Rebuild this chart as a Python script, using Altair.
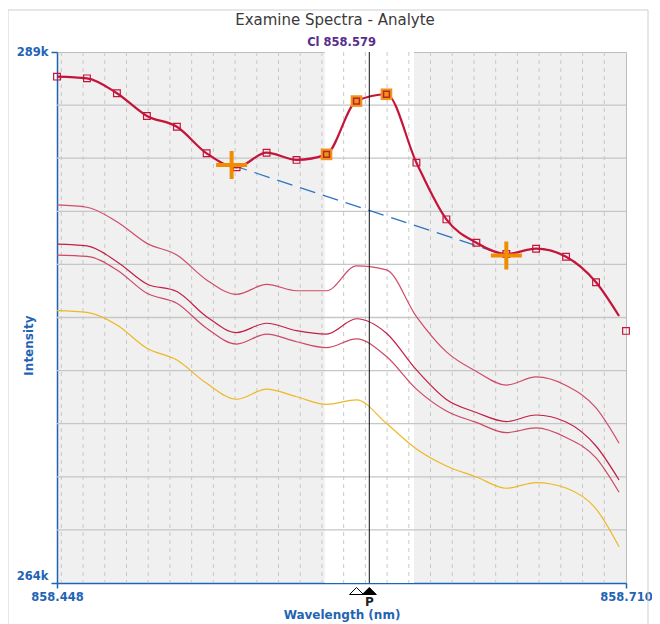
import altair as alt
import pandas as pd

# ---------------- data ----------------
wavelengths = [858.4480, 858.4618, 858.4756, 858.4894, 858.5032, 858.5169, 858.5307,
               858.5445, 858.5583, 858.5721, 858.5859, 858.5997, 858.6135, 858.6273,
               858.6411, 858.6549, 858.6686, 858.6824, 858.6962, 858.7068]
marker_wavelengths = [858.4480, 858.4618, 858.4756, 858.4894, 858.5032, 858.5169, 858.5307,
                      858.5445, 858.5583, 858.5721, 858.5859, 858.5997, 858.6135, 858.6273,
                      858.6411, 858.6549, 858.6686, 858.6824, 858.6962, 858.7100]

analyte = [287840, 287760, 287060, 285990, 285480, 284230, 283570, 284260, 283920, 284180,
           286690, 287010, 283790, 281120, 280020, 279490, 279740, 279360, 278160, 276570]
analyte_markers = [287840, 287760, 287060, 285990, 285480, 284230, 283570, 284260, 283920, 284180,
                   286690, 287010, 283790, 281120, 280020, 279490, 279740, 279360, 278160, 275870]
peak_points = [9, 10, 11]

spectrum_a = [281800, 281690, 281010, 279990, 279440, 278270, 277590, 278060, 277760, 277760,
              278930, 278740, 276540, 274880, 273960, 273320, 273700, 273300, 272240, 270580]
spectrum_b = [279950, 279870, 279130, 278080, 277720, 276540, 275790, 276230, 275880, 275720,
              276440, 275760, 274030, 272640, 272030, 271600, 271910, 271580, 270450, 268850]
spectrum_c = [279440, 279380, 278740, 277640, 277170, 275990, 275250, 275720, 275360, 275080,
              275490, 274660, 273130, 272100, 271560, 271080, 271300, 270850, 269890, 268270]
spectrum_d = [276820, 276740, 276150, 275050, 274500, 273400, 272650, 273130, 272770, 272410,
              272620, 271510, 270310, 269510, 268990, 268460, 268730, 268470, 267490, 265710]

background_wl = [858.5284, 858.6549]
background_int = [283680, 279420]

window_band = [858.5713, 858.6124]
peak_wl = 858.5918
line_wl = 858.5859

x_domain = [858.448, 858.710]
y_domain = [264000, 289000]
x_labels = [858.448, 858.710]
y_labels = [264000, 289000]
x_grid = [858.45, 858.46, 858.47, 858.48, 858.49, 858.50, 858.51, 858.52, 858.53,
          858.54, 858.55, 858.56, 858.57, 858.58, 858.59, 858.60, 858.61, 858.62,
          858.63, 858.64, 858.65, 858.66, 858.67, 858.68, 858.69, 858.70]
y_grid = [266500, 269000, 271500, 274000, 276500, 279000, 281500, 284000, 286500]

title_text = "Examine Spectra - Analyte"
subtitle_text = "Cl 858.579"

# ---------------- styling ----------------
W, H = 569, 531
BLUE = "#1F64B4"
CRIMSON = "#C4143A"
FONT = "DejaVu Sans"

xscale = alt.Scale(domain=x_domain, nice=False, zero=False)
yscale = alt.Scale(domain=y_domain, nice=False, zero=False)

xaxis = alt.Axis(values=x_labels, format=".3f", grid=False, labelColor=BLUE, labelFont=FONT,
                 labelFontSize=11.5, labelFontWeight="bold", labelPadding=3, tickSize=5,
                 tickColor=BLUE, tickWidth=1.5, domainColor=BLUE, domainWidth=1.5,
                 labelFlush=False, labelOverlap=False, title="Wavelength (nm)",
                 titleColor=BLUE, titleFont=FONT, titleFontSize=12, titleFontWeight="bold",
                 titleY=31, titleBaseline="middle")
yaxis = alt.Axis(values=y_labels, format="~s", grid=False, labelColor=BLUE, labelFont=FONT,
                 labelFontSize=11.5, labelFontWeight="bold", labelPadding=3, tickSize=6,
                 tickColor=BLUE, tickWidth=1.5, domainColor=BLUE, domainWidth=1.5,
                 labelFlush=False, labelOverlap=False,
                 labelOffset={"condition": {"test": "datum.value < 270000", "value": -7}, "value": 0},
                 title="Intensity", titleColor=BLUE, titleFont=FONT, titleFontSize=12,
                 titleFontWeight="bold", titleX=-29, titleY=293, titleBaseline="middle")


def X(field):
    return alt.X(field, type="quantitative", scale=xscale, axis=xaxis)


def Y(field):
    return alt.Y(field, type="quantitative", scale=yscale, axis=yaxis)


# ---------------- tables ----------------
band_df = pd.DataFrame({"start": [window_band[0]], "end": [window_band[1]]})
xgrid_df = pd.DataFrame({"wl": x_grid})
ygrid_df = pd.DataFrame({"inten": y_grid})

rows = []
for name, vals in [("A", spectrum_a), ("B", spectrum_b), ("C", spectrum_c), ("D", spectrum_d)]:
    for w, v in zip(wavelengths, vals):
        rows.append({"wl": w, "inten": v, "series": name})
thin_df = pd.DataFrame(rows)
main_df = pd.DataFrame({"wl": wavelengths, "inten": analyte})
mark_df = pd.DataFrame({"wl": marker_wavelengths, "inten": analyte_markers})
peak_df = mark_df.iloc[peak_points]
base_df = pd.DataFrame({"wl": background_wl, "inten": background_int})
peakline_df = pd.DataFrame({"wl": [peak_wl]})
tri_df = pd.DataFrame({"wl": [line_wl, peak_wl], "kind": ["line", "peak"]})

# ---------------- layers ----------------
band = alt.Chart(band_df).mark_rect(color="white").encode(
    x=X("start"), x2="end", y=alt.value(0), y2=alt.value(H))

vgrid = alt.Chart(xgrid_df).mark_rule(color="#C9C9C9", strokeWidth=1, strokeDash=[4, 4]).encode(
    x=X("wl"))
hgrid = alt.Chart(ygrid_df).mark_rule(color="#C6C6C6", strokeWidth=1.3).encode(y=Y("inten"))

thin = alt.Chart(thin_df).mark_line(interpolate="monotone", strokeWidth=1.2).encode(
    x=X("wl"), y=Y("inten"),
    color=alt.Color("series:N", legend=None,
                    scale=alt.Scale(domain=["A", "B", "C", "D"],
                                    range=["#CF4C69", "#C41E45", "#CC4965", "#EDB824"])))

baseline = alt.Chart(base_df).mark_line(color="#2C74C2", strokeWidth=1.3,
                                        strokeDash=[16, 8]).encode(x=X("wl"), y=Y("inten"))

main = alt.Chart(main_df).mark_line(interpolate="monotone", color=CRIMSON,
                                    strokeWidth=2.2).encode(x=X("wl"), y=Y("inten"))

markers = alt.Chart(mark_df).mark_point(shape="square", filled=False, size=45, strokeWidth=1.2,
                                        color=CRIMSON, opacity=1).encode(x=X("wl"), y=Y("inten"))

peak_outer = alt.Chart(peak_df).mark_point(shape="square", filled=True, size=135,
                                           color="#F29318", opacity=1).encode(x=X("wl"), y=Y("inten"))
peak_inner = alt.Chart(peak_df).mark_point(shape="square", filled=False, size=34, strokeWidth=1.5,
                                           color="#B3262E", opacity=1).encode(x=X("wl"), y=Y("inten"))

crosses = alt.Chart(base_df).mark_point(shape="M-1,0L1,0M0,-0.9L0,0.9", filled=False, size=961,
                                        strokeWidth=4, color="#F08C00", opacity=1).encode(
    x=X("wl"), y=Y("inten"))

peak_rule = alt.Chart(peakline_df).mark_rule(color="#111111", strokeWidth=1).encode(x=X("wl"))

triangles = alt.Chart(tri_df).mark_point(shape="M-1,0.5L0,-0.5L1,0.5Z", filled=True, size=196,
                                         stroke="black", strokeWidth=1, opacity=1).encode(
    x=X("wl"), y=alt.value(H + 8),
    fill=alt.Fill("kind:N", legend=None,
                  scale=alt.Scale(domain=["line", "peak"], range=["white", "black"])))

p_label = alt.Chart(peakline_df).mark_text(text="P", font=FONT, fontSize=12, fontWeight="bold",
                                           color="#222222").encode(x=X("wl"), y=alt.value(H + 19))

title = alt.Chart(band_df).mark_text(text=title_text, font=FONT, fontSize=15, color="#3A3A3A",
                                     baseline="middle").encode(x=alt.value(278), y=alt.value(-32))
subtitle = alt.Chart(band_df).mark_text(text=subtitle_text, font=FONT, fontSize=11.5,
                                        fontWeight="bold", color="#5A2D8C",
                                        baseline="middle").encode(x=alt.value(W / 2), y=alt.value(-9))

frame = alt.Chart(band_df).mark_rect(fillOpacity=0, stroke="#CFCFCF", strokeWidth=1).encode(
    x=alt.value(-49), x2=alt.value(591), y=alt.value(-42), y2=alt.value(H + 80))

chart = alt.layer(
    band, vgrid, hgrid, thin, baseline, main, markers, peak_outer, peak_inner, crosses,
    peak_rule, triangles, p_label, title, subtitle, frame
).resolve_scale(color="independent", fill="independent").properties(
    width=W, height=H, autosize="none",
    padding={"left": 49, "top": 44, "right": 26, "bottom": 41},
    background="white"
).configure_view(fill="#F0F0F0", stroke="#BDBDBD", strokeWidth=1)

chart.save("out.html", embed_options={"renderer": "svg", "actions": False})
